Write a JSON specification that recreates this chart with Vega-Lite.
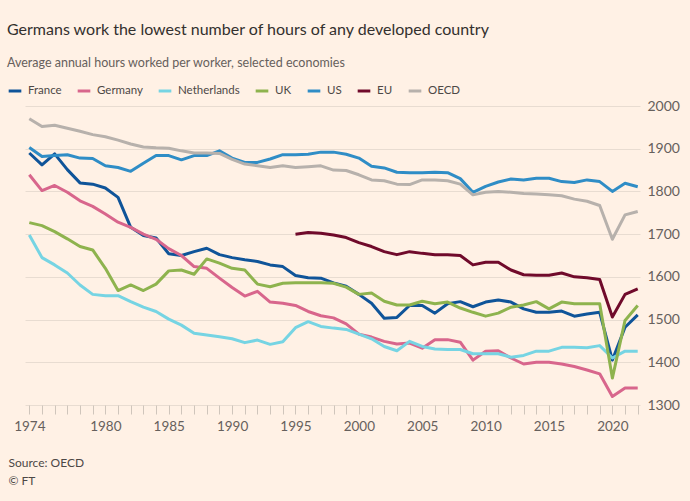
{
  "$schema": "https://vega.github.io/schema/vega-lite/v6.json",
  "width": 615,
  "height": 299,
  "autosize": {"type": "none"},
  "padding": {"left": 25, "top": 106, "right": 50, "bottom": 96},
  "background": "#FFF1E5",
  "title": {
    "text": "Germans work the lowest number of hours of any developed country",
    "subtitle": "Average annual hours worked per worker, selected economies",
    "anchor": "start",
    "frame": "group",
    "dx": -18,
    "font": "Lato",
    "fontSize": 16,
    "fontWeight": "normal",
    "color": "#33302E",
    "subtitleFont": "Lato",
    "subtitleFontSize": 12.5,
    "subtitleColor": "#66605C",
    "subtitlePadding": 19,
    "offset": 14
  },
  "data": {"values": [
    {"s":"France","yr":1974,"h":1890},{"s":"France","yr":1975,"h":1862},{"s":"France","yr":1976,"h":1888},{"s":"France","yr":1977,"h":1851},{"s":"France","yr":1978,"h":1820},{"s":"France","yr":1979,"h":1817},{"s":"France","yr":1980,"h":1808},{"s":"France","yr":1981,"h":1786},{"s":"France","yr":1982,"h":1716},{"s":"France","yr":1983,"h":1697},{"s":"France","yr":1984,"h":1691},{"s":"France","yr":1985,"h":1654},{"s":"France","yr":1986,"h":1650},{"s":"France","yr":1987,"h":1659},{"s":"France","yr":1988,"h":1667},{"s":"France","yr":1989,"h":1652},{"s":"France","yr":1990,"h":1645},{"s":"France","yr":1991,"h":1640},{"s":"France","yr":1992,"h":1636},{"s":"France","yr":1993,"h":1628},{"s":"France","yr":1994,"h":1624},{"s":"France","yr":1995,"h":1603},{"s":"France","yr":1996,"h":1598},{"s":"France","yr":1997,"h":1597},{"s":"France","yr":1998,"h":1586},{"s":"France","yr":1999,"h":1578},{"s":"France","yr":2000,"h":1559},{"s":"France","yr":2001,"h":1538},{"s":"France","yr":2002,"h":1503},{"s":"France","yr":2003,"h":1505},{"s":"France","yr":2004,"h":1533},{"s":"France","yr":2005,"h":1533},{"s":"France","yr":2006,"h":1515},{"s":"France","yr":2007,"h":1537},{"s":"France","yr":2008,"h":1542},{"s":"France","yr":2009,"h":1530},{"s":"France","yr":2010,"h":1541},{"s":"France","yr":2011,"h":1546},{"s":"France","yr":2012,"h":1541},{"s":"France","yr":2013,"h":1525},{"s":"France","yr":2014,"h":1517},{"s":"France","yr":2015,"h":1517},{"s":"France","yr":2016,"h":1520},{"s":"France","yr":2017,"h":1508},{"s":"France","yr":2018,"h":1513},{"s":"France","yr":2019,"h":1517},{"s":"France","yr":2020,"h":1405},{"s":"France","yr":2021,"h":1482},{"s":"France","yr":2022,"h":1511},
    {"s":"Germany","yr":1974,"h":1839},{"s":"Germany","yr":1975,"h":1802},{"s":"Germany","yr":1976,"h":1814},{"s":"Germany","yr":1977,"h":1798},{"s":"Germany","yr":1978,"h":1778},{"s":"Germany","yr":1979,"h":1765},{"s":"Germany","yr":1980,"h":1747},{"s":"Germany","yr":1981,"h":1728},{"s":"Germany","yr":1982,"h":1716},{"s":"Germany","yr":1983,"h":1700},{"s":"Germany","yr":1984,"h":1688},{"s":"Germany","yr":1985,"h":1666},{"s":"Germany","yr":1986,"h":1650},{"s":"Germany","yr":1987,"h":1624},{"s":"Germany","yr":1988,"h":1620},{"s":"Germany","yr":1989,"h":1597},{"s":"Germany","yr":1990,"h":1575},{"s":"Germany","yr":1991,"h":1555},{"s":"Germany","yr":1992,"h":1566},{"s":"Germany","yr":1993,"h":1541},{"s":"Germany","yr":1994,"h":1538},{"s":"Germany","yr":1995,"h":1533},{"s":"Germany","yr":1996,"h":1519},{"s":"Germany","yr":1997,"h":1509},{"s":"Germany","yr":1998,"h":1504},{"s":"Germany","yr":1999,"h":1490},{"s":"Germany","yr":2000,"h":1466},{"s":"Germany","yr":2001,"h":1459},{"s":"Germany","yr":2002,"h":1449},{"s":"Germany","yr":2003,"h":1443},{"s":"Germany","yr":2004,"h":1445},{"s":"Germany","yr":2005,"h":1433},{"s":"Germany","yr":2006,"h":1453},{"s":"Germany","yr":2007,"h":1453},{"s":"Germany","yr":2008,"h":1447},{"s":"Germany","yr":2009,"h":1405},{"s":"Germany","yr":2010,"h":1426},{"s":"Germany","yr":2011,"h":1427},{"s":"Germany","yr":2012,"h":1410},{"s":"Germany","yr":2013,"h":1396},{"s":"Germany","yr":2014,"h":1400},{"s":"Germany","yr":2015,"h":1400},{"s":"Germany","yr":2016,"h":1396},{"s":"Germany","yr":2017,"h":1390},{"s":"Germany","yr":2018,"h":1382},{"s":"Germany","yr":2019,"h":1373},{"s":"Germany","yr":2020,"h":1320},{"s":"Germany","yr":2021,"h":1340},{"s":"Germany","yr":2022,"h":1340},
    {"s":"Netherlands","yr":1974,"h":1698},{"s":"Netherlands","yr":1975,"h":1645},{"s":"Netherlands","yr":1976,"h":1628},{"s":"Netherlands","yr":1977,"h":1609},{"s":"Netherlands","yr":1978,"h":1581},{"s":"Netherlands","yr":1979,"h":1559},{"s":"Netherlands","yr":1980,"h":1556},{"s":"Netherlands","yr":1981,"h":1556},{"s":"Netherlands","yr":1982,"h":1542},{"s":"Netherlands","yr":1983,"h":1529},{"s":"Netherlands","yr":1984,"h":1519},{"s":"Netherlands","yr":1985,"h":1501},{"s":"Netherlands","yr":1986,"h":1487},{"s":"Netherlands","yr":1987,"h":1468},{"s":"Netherlands","yr":1988,"h":1464},{"s":"Netherlands","yr":1989,"h":1460},{"s":"Netherlands","yr":1990,"h":1455},{"s":"Netherlands","yr":1991,"h":1446},{"s":"Netherlands","yr":1992,"h":1452},{"s":"Netherlands","yr":1993,"h":1442},{"s":"Netherlands","yr":1994,"h":1448},{"s":"Netherlands","yr":1995,"h":1481},{"s":"Netherlands","yr":1996,"h":1495},{"s":"Netherlands","yr":1997,"h":1484},{"s":"Netherlands","yr":1998,"h":1480},{"s":"Netherlands","yr":1999,"h":1477},{"s":"Netherlands","yr":2000,"h":1466},{"s":"Netherlands","yr":2001,"h":1455},{"s":"Netherlands","yr":2002,"h":1437},{"s":"Netherlands","yr":2003,"h":1427},{"s":"Netherlands","yr":2004,"h":1449},{"s":"Netherlands","yr":2005,"h":1437},{"s":"Netherlands","yr":2006,"h":1431},{"s":"Netherlands","yr":2007,"h":1430},{"s":"Netherlands","yr":2008,"h":1430},{"s":"Netherlands","yr":2009,"h":1420},{"s":"Netherlands","yr":2010,"h":1420},{"s":"Netherlands","yr":2011,"h":1420},{"s":"Netherlands","yr":2012,"h":1412},{"s":"Netherlands","yr":2013,"h":1416},{"s":"Netherlands","yr":2014,"h":1426},{"s":"Netherlands","yr":2015,"h":1426},{"s":"Netherlands","yr":2016,"h":1435},{"s":"Netherlands","yr":2017,"h":1435},{"s":"Netherlands","yr":2018,"h":1434},{"s":"Netherlands","yr":2019,"h":1439},{"s":"Netherlands","yr":2020,"h":1410},{"s":"Netherlands","yr":2021,"h":1426},{"s":"Netherlands","yr":2022,"h":1426},
    {"s":"UK","yr":1974,"h":1727},{"s":"UK","yr":1975,"h":1720},{"s":"UK","yr":1976,"h":1706},{"s":"UK","yr":1977,"h":1689},{"s":"UK","yr":1978,"h":1671},{"s":"UK","yr":1979,"h":1663},{"s":"UK","yr":1980,"h":1620},{"s":"UK","yr":1981,"h":1568},{"s":"UK","yr":1982,"h":1581},{"s":"UK","yr":1983,"h":1568},{"s":"UK","yr":1984,"h":1583},{"s":"UK","yr":1985,"h":1614},{"s":"UK","yr":1986,"h":1616},{"s":"UK","yr":1987,"h":1606},{"s":"UK","yr":1988,"h":1642},{"s":"UK","yr":1989,"h":1632},{"s":"UK","yr":1990,"h":1620},{"s":"UK","yr":1991,"h":1616},{"s":"UK","yr":1992,"h":1583},{"s":"UK","yr":1993,"h":1577},{"s":"UK","yr":1994,"h":1585},{"s":"UK","yr":1995,"h":1586},{"s":"UK","yr":1996,"h":1586},{"s":"UK","yr":1997,"h":1586},{"s":"UK","yr":1998,"h":1585},{"s":"UK","yr":1999,"h":1576},{"s":"UK","yr":2000,"h":1559},{"s":"UK","yr":2001,"h":1562},{"s":"UK","yr":2002,"h":1543},{"s":"UK","yr":2003,"h":1534},{"s":"UK","yr":2004,"h":1534},{"s":"UK","yr":2005,"h":1543},{"s":"UK","yr":2006,"h":1537},{"s":"UK","yr":2007,"h":1541},{"s":"UK","yr":2008,"h":1527},{"s":"UK","yr":2009,"h":1517},{"s":"UK","yr":2010,"h":1508},{"s":"UK","yr":2011,"h":1515},{"s":"UK","yr":2012,"h":1529},{"s":"UK","yr":2013,"h":1534},{"s":"UK","yr":2014,"h":1542},{"s":"UK","yr":2015,"h":1525},{"s":"UK","yr":2016,"h":1541},{"s":"UK","yr":2017,"h":1537},{"s":"UK","yr":2018,"h":1537},{"s":"UK","yr":2019,"h":1537},{"s":"UK","yr":2020,"h":1363},{"s":"UK","yr":2021,"h":1498},{"s":"UK","yr":2022,"h":1533},
    {"s":"US","yr":1974,"h":1903},{"s":"US","yr":1975,"h":1882},{"s":"US","yr":1976,"h":1884},{"s":"US","yr":1977,"h":1886},{"s":"US","yr":1978,"h":1878},{"s":"US","yr":1979,"h":1877},{"s":"US","yr":1980,"h":1860},{"s":"US","yr":1981,"h":1856},{"s":"US","yr":1982,"h":1847},{"s":"US","yr":1983,"h":1866},{"s":"US","yr":1984,"h":1884},{"s":"US","yr":1985,"h":1884},{"s":"US","yr":1986,"h":1874},{"s":"US","yr":1987,"h":1884},{"s":"US","yr":1988,"h":1884},{"s":"US","yr":1989,"h":1895},{"s":"US","yr":1990,"h":1878},{"s":"US","yr":1991,"h":1868},{"s":"US","yr":1992,"h":1868},{"s":"US","yr":1993,"h":1876},{"s":"US","yr":1994,"h":1886},{"s":"US","yr":1995,"h":1886},{"s":"US","yr":1996,"h":1887},{"s":"US","yr":1997,"h":1892},{"s":"US","yr":1998,"h":1892},{"s":"US","yr":1999,"h":1887},{"s":"US","yr":2000,"h":1878},{"s":"US","yr":2001,"h":1859},{"s":"US","yr":2002,"h":1855},{"s":"US","yr":2003,"h":1845},{"s":"US","yr":2004,"h":1844},{"s":"US","yr":2005,"h":1844},{"s":"US","yr":2006,"h":1845},{"s":"US","yr":2007,"h":1844},{"s":"US","yr":2008,"h":1830},{"s":"US","yr":2009,"h":1798},{"s":"US","yr":2010,"h":1812},{"s":"US","yr":2011,"h":1822},{"s":"US","yr":2012,"h":1829},{"s":"US","yr":2013,"h":1827},{"s":"US","yr":2014,"h":1831},{"s":"US","yr":2015,"h":1831},{"s":"US","yr":2016,"h":1823},{"s":"US","yr":2017,"h":1821},{"s":"US","yr":2018,"h":1827},{"s":"US","yr":2019,"h":1823},{"s":"US","yr":2020,"h":1800},{"s":"US","yr":2021,"h":1819},{"s":"US","yr":2022,"h":1811},
    {"s":"EU","yr":1995,"h":1700},{"s":"EU","yr":1996,"h":1704},{"s":"EU","yr":1997,"h":1702},{"s":"EU","yr":1998,"h":1698},{"s":"EU","yr":1999,"h":1692},{"s":"EU","yr":2000,"h":1680},{"s":"EU","yr":2001,"h":1671},{"s":"EU","yr":2002,"h":1659},{"s":"EU","yr":2003,"h":1652},{"s":"EU","yr":2004,"h":1659},{"s":"EU","yr":2005,"h":1655},{"s":"EU","yr":2006,"h":1652},{"s":"EU","yr":2007,"h":1652},{"s":"EU","yr":2008,"h":1650},{"s":"EU","yr":2009,"h":1628},{"s":"EU","yr":2010,"h":1634},{"s":"EU","yr":2011,"h":1634},{"s":"EU","yr":2012,"h":1616},{"s":"EU","yr":2013,"h":1605},{"s":"EU","yr":2014,"h":1604},{"s":"EU","yr":2015,"h":1604},{"s":"EU","yr":2016,"h":1609},{"s":"EU","yr":2017,"h":1600},{"s":"EU","yr":2018,"h":1598},{"s":"EU","yr":2019,"h":1594},{"s":"EU","yr":2020,"h":1506},{"s":"EU","yr":2021,"h":1559},{"s":"EU","yr":2022,"h":1572},
    {"s":"OECD","yr":1974,"h":1970},{"s":"OECD","yr":1975,"h":1952},{"s":"OECD","yr":1976,"h":1955},{"s":"OECD","yr":1977,"h":1948},{"s":"OECD","yr":1978,"h":1941},{"s":"OECD","yr":1979,"h":1933},{"s":"OECD","yr":1980,"h":1928},{"s":"OECD","yr":1981,"h":1920},{"s":"OECD","yr":1982,"h":1911},{"s":"OECD","yr":1983,"h":1904},{"s":"OECD","yr":1984,"h":1902},{"s":"OECD","yr":1985,"h":1901},{"s":"OECD","yr":1986,"h":1895},{"s":"OECD","yr":1987,"h":1890},{"s":"OECD","yr":1988,"h":1890},{"s":"OECD","yr":1989,"h":1889},{"s":"OECD","yr":1990,"h":1875},{"s":"OECD","yr":1991,"h":1864},{"s":"OECD","yr":1992,"h":1860},{"s":"OECD","yr":1993,"h":1856},{"s":"OECD","yr":1994,"h":1860},{"s":"OECD","yr":1995,"h":1856},{"s":"OECD","yr":1996,"h":1858},{"s":"OECD","yr":1997,"h":1860},{"s":"OECD","yr":1998,"h":1850},{"s":"OECD","yr":1999,"h":1849},{"s":"OECD","yr":2000,"h":1839},{"s":"OECD","yr":2001,"h":1827},{"s":"OECD","yr":2002,"h":1825},{"s":"OECD","yr":2003,"h":1817},{"s":"OECD","yr":2004,"h":1816},{"s":"OECD","yr":2005,"h":1827},{"s":"OECD","yr":2006,"h":1827},{"s":"OECD","yr":2007,"h":1825},{"s":"OECD","yr":2008,"h":1817},{"s":"OECD","yr":2009,"h":1792},{"s":"OECD","yr":2010,"h":1798},{"s":"OECD","yr":2011,"h":1800},{"s":"OECD","yr":2012,"h":1798},{"s":"OECD","yr":2013,"h":1795},{"s":"OECD","yr":2014,"h":1794},{"s":"OECD","yr":2015,"h":1792},{"s":"OECD","yr":2016,"h":1790},{"s":"OECD","yr":2017,"h":1782},{"s":"OECD","yr":2018,"h":1777},{"s":"OECD","yr":2019,"h":1767},{"s":"OECD","yr":2020,"h":1688},{"s":"OECD","yr":2021,"h":1745},{"s":"OECD","yr":2022,"h":1753}
  ]},
  "mark": {"type": "line", "strokeWidth": 3, "strokeJoin": "round", "strokeCap": "butt"},
  "encoding": {
    "x": {
      "field": "yr", "type": "quantitative",
      "scale": {"domain": [1973.66, 2022.18], "nice": false, "zero": false},
      "axis": {
        "values": [1974,1975,1976,1977,1978,1979,1980,1981,1982,1983,1984,1985,1986,1987,1988,1989,1990,1991,1992,1993,1994,1995,1996,1997,1998,1999,2000,2001,2002,2003,2004,2005,2006,2007,2008,2009,2010,2011,2012,2013,2014,2015,2016,2017,2018,2019,2020,2021,2022],
        "labelExpr": "(datum.value == 1974 || (datum.value >= 1980 && datum.value % 5 == 0)) ? format(datum.value, 'd') : ''",
        "labelOverlap": false,
        "labelFlush": false,
        "grid": false,
        "domain": false,
        "ticks": true,
        "tickSize": 9,
        "tickColor": "#CFC5BB",
        "tickWidth": 1,
        "labelPadding": 5,
        "labelFont": "Lato",
        "labelFontSize": 13.5,
        "labelColor": "#66605C",
        "title": ["Source: OECD", "© FT"],
        "titleAnchor": "start",
        "titleAlign": "left",
        "titleBaseline": "top",
        "titleX": -17,
        "titleY": 52,
        "titleFont": "Lato",
        "titleFontSize": 12,
        "titleFontWeight": "normal",
        "titleColor": "#4D4845",
        "titleLineHeight": 18
      }
    },
    "y": {
      "field": "h", "type": "quantitative",
      "scale": {"domain": [1300, 2000], "nice": false, "zero": false},
      "axis": {
        "orient": "right",
        "values": [1300,1400,1500,1600,1700,1800,1900,2000],
        "format": "d",
        "grid": true,
        "gridColor": "#E8DCD1",
        "gridWidth": 1,
        "domain": false,
        "ticks": false,
        "labelPadding": 7,
        "labelFont": "Lato",
        "labelFontSize": 14,
        "labelColor": "#66605C",
        "title": null
      }
    },
    "color": {
      "field": "s", "type": "nominal",
      "scale": {
        "domain": ["France","Germany","Netherlands","UK","US","EU","OECD"],
        "range": ["#0F5499","#D8668C","#76D4E3","#8EB34E","#2F8DC6","#700A2B","#B7B1AC"]
      },
      "legend": {
        "orient": "none",
        "direction": "horizontal",
        "legendX": -18,
        "legendY": -23,
        "title": null,
        "symbolType": "stroke",
        "symbolStrokeWidth": 3,
        "symbolSize": 160,
        "labelOffset": 5,
        "columnPadding": 9,
        "labelFont": "Lato",
        "labelFontSize": 11.5,
        "labelColor": "#4D4845"
      }
    }
  },
  "config": {"view": {"stroke": null}}
}
